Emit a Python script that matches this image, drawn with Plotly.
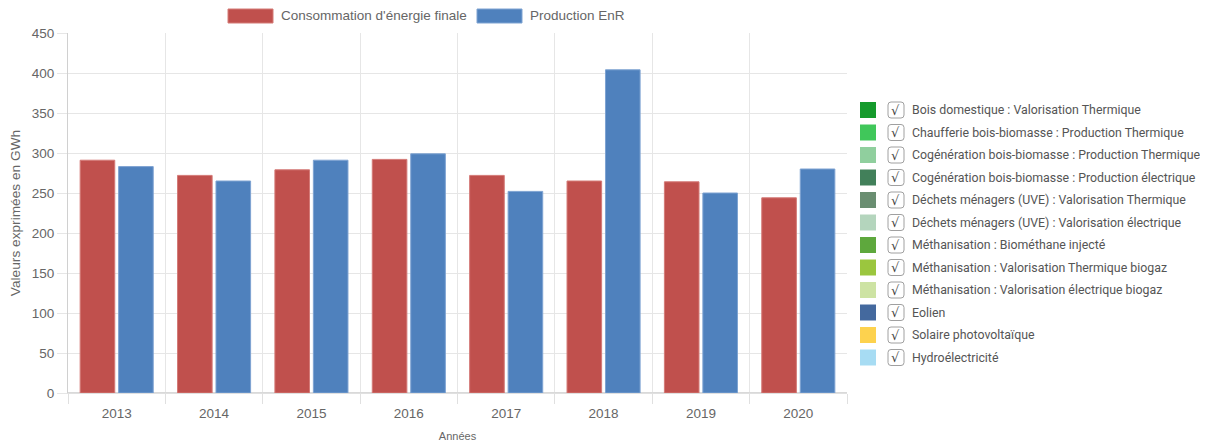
import plotly.graph_objects as go

years = ["2013", "2014", "2015", "2016", "2017", "2018", "2019", "2020"]
consommation = [291, 272, 279, 292, 272, 265, 264, 244]
production = [283, 265, 291, 299, 252, 404, 250, 280]

series_names = ["Consommation d'énergie finale", "Production EnR"]
series_colors = ["#c0504d", "#4f81bd"]
series_borders = ["#d47a77", "#7ea3d2"]

filiere_names = [
    "Bois domestique : Valorisation Thermique",
    "Chaufferie bois-biomasse : Production Thermique",
    "Cogénération bois-biomasse : Production Thermique",
    "Cogénération bois-biomasse : Production électrique",
    "Déchets ménagers (UVE) : Valorisation Thermique",
    "Déchets ménagers (UVE) : Valorisation électrique",
    "Méthanisation : Biométhane injecté",
    "Méthanisation : Valorisation Thermique biogaz",
    "Méthanisation : Valorisation électrique biogaz",
    "Eolien",
    "Solaire photovoltaïque",
    "Hydroélectricité",
]
filiere_colors = [
    "#159a2c", "#40c75a", "#90cf9e", "#42805a", "#6a8e71", "#b4d5bd",
    "#5ea83d", "#9bc63e", "#cde3a3", "#44699e", "#fdd24e", "#a7dcf3",
]

# the page body adds an 8px margin, so the figure is drawn 8px smaller
OFF = 8
W, H = 1208 - OFF, 446 - OFF
L, R, T, B = 68, 847, 33, 393  # plot area in page pixels


def px(x):
    return (x - L) / (R - L)


def py(y):
    return (B - y) / (B - T)


fig = go.Figure()
for name, vals, col, bcol in zip(series_names, [consommation, production], series_colors, series_borders):
    fig.add_trace(go.Bar(
        x=years, y=vals, name=name,
        marker=dict(color=col, line=dict(color=bcol, width=1)),
        showlegend=False,
    ))

shapes = []
annotations = []

# top legend
top_x = [228, 477]
for i, (name, col, bcol) in enumerate(zip(series_names, series_colors, series_borders)):
    x0 = top_x[i]
    shapes.append(dict(type="rect", xref="paper", yref="paper",
                       x0=px(x0), x1=px(x0 + 45), y0=py(23), y1=py(9),
                       fillcolor=col, line=dict(color=bcol, width=1)))
    annotations.append(dict(xref="paper", yref="paper", x=px(x0 + 51), y=py(16),
                            text=name, showarrow=False, xanchor="left", yanchor="middle",
                            font=dict(family="Liberation Sans, Arial", size=13.5, color="#666666")))

# right legend with checkboxes
for i, (name, col) in enumerate(zip(filiere_names, filiere_colors)):
    cy = 110 + 22.5 * i
    shapes.append(dict(type="rect", xref="paper", yref="paper",
                       x0=px(860), x1=px(876), y0=py(cy + 8), y1=py(cy - 8),
                       fillcolor=col, line=dict(width=0)))
    x0, x1, y0, y1, r = 888, 904, cy - 8, cy + 8, 3
    path = (f"M {px(x0 + r)},{py(y0)} L {px(x1 - r)},{py(y0)} Q {px(x1)},{py(y0)} {px(x1)},{py(y0 + r)} "
            f"L {px(x1)},{py(y1 - r)} Q {px(x1)},{py(y1)} {px(x1 - r)},{py(y1)} "
            f"L {px(x0 + r)},{py(y1)} Q {px(x0)},{py(y1)} {px(x0)},{py(y1 - r)} "
            f"L {px(x0)},{py(y0 + r)} Q {px(x0)},{py(y0)} {px(x0 + r)},{py(y0)} Z")
    shapes.append(dict(type="path", xref="paper", yref="paper", path=path,
                       fillcolor="white", line=dict(color="#a0a0a0", width=1)))
    annotations.append(dict(xref="paper", yref="paper", x=px(896), y=py(cy),
                            text="√", showarrow=False, xanchor="center", yanchor="middle",
                            font=dict(family="DejaVu Sans", size=13, color="#444444")))
    annotations.append(dict(xref="paper", yref="paper", x=px(910), y=py(cy),
                            text=name, showarrow=False, xanchor="left", yanchor="middle",
                            font=dict(family="Roboto", size=12.35, color="#555555")))

fig.update_layout(
    width=W, height=H, autosize=False,
    margin=dict(l=L - OFF, r=1208 - R, t=T - OFF, b=446 - B, autoexpand=False),
    paper_bgcolor="white", plot_bgcolor="white",
    barmode="group", bargap=0.21, bargroupgap=0.1,
    font=dict(family="Liberation Sans, Arial", size=13, color="#666666"),
    shapes=shapes, annotations=annotations,
    showlegend=False,
)
fig.update_xaxes(
    type="category", tickson="boundaries", ticks="outside", ticklen=10,
    tickcolor="#e0e0e0", showgrid=True, gridcolor="#e6e6e6", gridwidth=1,
    showline=True, linecolor="#e0e0e0", mirror=False,
    ticklabelstandoff=8,
    tickfont=dict(size=13.5, color="#666666"),
    title=dict(text="Années", font=dict(size=11, color="#666666"), standoff=12),
)
fig.update_yaxes(
    range=[0, 450], dtick=50, ticks="outside", ticklen=10, tickcolor="#e6e6e6",
    showgrid=True, gridcolor="#e6e6e6", zeroline=True, zerolinecolor="#d9d9d9",
    showline=True, linecolor="#d0d0d0",
    tickfont=dict(size=13.5, color="#666666"),
    title=dict(text="Valeurs exprimées en GWh", font=dict(size=13.7, color="#666666"), standoff=10),
)

fig.write_html("out.html")
